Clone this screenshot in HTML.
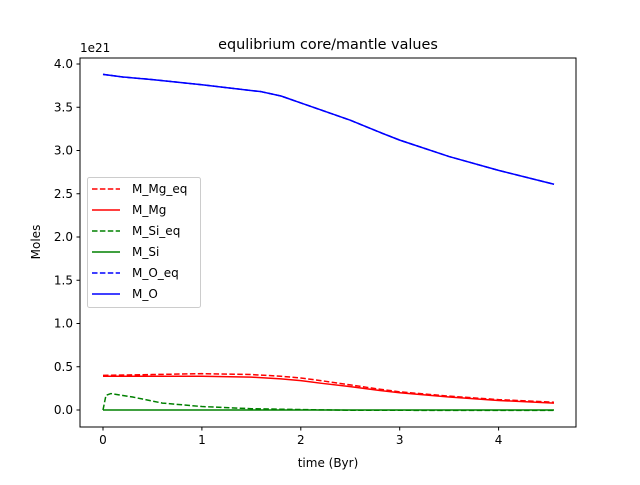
<!DOCTYPE html>
<html><head><meta charset="utf-8"><style>body{margin:0;background:#fff}svg{font-family:"DejaVu Sans","Liberation Sans",sans-serif}</style></head>
<body>
<svg id="c" width="640" height="480" xmlns="http://www.w3.org/2000/svg">
<rect x="0" y="0" width="640" height="480" fill="#fff"/>
<g id="plot"></g>
<rect x="80" y="58" width="496" height="369" fill="none" stroke="#000" stroke-width="1"/>
<g id="ticks" font-size="12"></g>
<text x="328" y="49" font-size="14.4" text-anchor="middle">equlibrium core/mantle values</text>
<text x="328" y="467" font-size="12" text-anchor="middle">time (Byr)</text>
<text x="40" y="242" font-size="12" text-anchor="middle" transform="rotate(-90 40 242)">Moles</text>
<text x="80" y="52" font-size="12">1e21</text>
<g id="legend"></g>
</svg>
<script>
const xTicks=[0,1,2,3,4];
const yTicks=[0,0.5,1,1.5,2,2.5,3,3.5,4];
const yTickLabels=["0.0","0.5","1.0","1.5","2.0","2.5","3.0","3.5","4.0"];
const tO=[0,0.2,0.5,1,1.3,1.6,1.8,2,2.2,2.5,2.8,3,3.5,4,4.56];
const vO=[3.88,3.85,3.82,3.76,3.72,3.68,3.63,3.55,3.47,3.35,3.21,3.12,2.93,2.77,2.61];
const tMg=[0,0.5,1,1.5,1.8,2,2.2,2.5,2.8,3,3.5,4,4.56];
const vMg=[0.39,0.39,0.39,0.38,0.36,0.34,0.31,0.27,0.225,0.20,0.15,0.11,0.08];
const vMgEq=[0.40,0.41,0.42,0.41,0.39,0.37,0.34,0.29,0.24,0.21,0.16,0.12,0.09];
const tSiEq=[0,0.03,0.08,0.3,0.6,1,1.5,2,2.5,4.56];
const vSiEq=[0,0.17,0.19,0.15,0.08,0.04,0.015,0.005,-0.003,-0.005];
const tSi=[0,4.56];
const vSi=[0,0];
const NS="http://www.w3.org/2000/svg";
const X=t=>103+t*98.9, Y=v=>410-v*86.5;
function mk(tag,at,parent){const e=document.createElementNS(NS,tag);for(const k in at)e.setAttribute(k,at[k]);parent.appendChild(e);return e;}
const plot=document.getElementById('plot'),ticks=document.getElementById('ticks'),lg=document.getElementById('legend');
function line(ts,vs,col,dash,name){const p=mk('polyline',{points:ts.map((t,i)=>X(t)+','+Y(vs[i])).join(' '),fill:'none',stroke:col,'stroke-width':1.5,'stroke-linejoin':'round','stroke-dasharray':dash?'5.5,2.4':'none'},plot);

}
line(tMg,vMgEq,'#ff0000',true,'line-m-mg-eq');
line(tMg,vMg,'#ff0000',false,'line-m-mg');
line(tSiEq,vSiEq,'#008000',true,'line-m-si-eq');
line(tSi,vSi,'#008000',false,'line-m-si');
line(tO,vO,'#0000ff',true,'line-m-o-eq');
line(tO,vO,'#0000ff',false,'line-m-o');
xTicks.forEach(t=>{const l=mk('line',{x1:X(t),x2:X(t),y1:427,y2:430.5,stroke:'#000'},ticks);


const s=mk('text',{x:X(t),y:444,'text-anchor':'middle'},ticks);s.textContent=t;

});
yTicks.forEach((v,i)=>{const l=mk('line',{x1:76.5,x2:80,y1:Y(v),y2:Y(v),stroke:'#000'},ticks);


const s=mk('text',{x:73,y:Y(v)+4,'text-anchor':'end'},ticks);s.textContent=yTickLabels[i];

});
const bx=mk('rect',{x:87.5,y:177.5,width:113,height:130,rx:2,fill:'#fff','fill-opacity':0.8,stroke:'#ccc'},lg);


const ents=[['M_Mg_eq','#ff0000',1],['M_Mg','#ff0000',0],['M_Si_eq','#008000',1],['M_Si','#008000',0],['M_O_eq','#0000ff',1],['M_O','#0000ff',0]];
ents.forEach((e,i)=>{const y=189+i*21;const g=mk('g',{},lg);


mk('line',{x1:92,x2:120,y1:y,y2:y,stroke:e[1],'stroke-width':1.5,'stroke-dasharray':e[2]?'5.5,2.4':'none'},g);
const s=mk('text',{x:132,y:y+4,'font-size':12},g);s.textContent=e[0];});
</script>
</body></html>
